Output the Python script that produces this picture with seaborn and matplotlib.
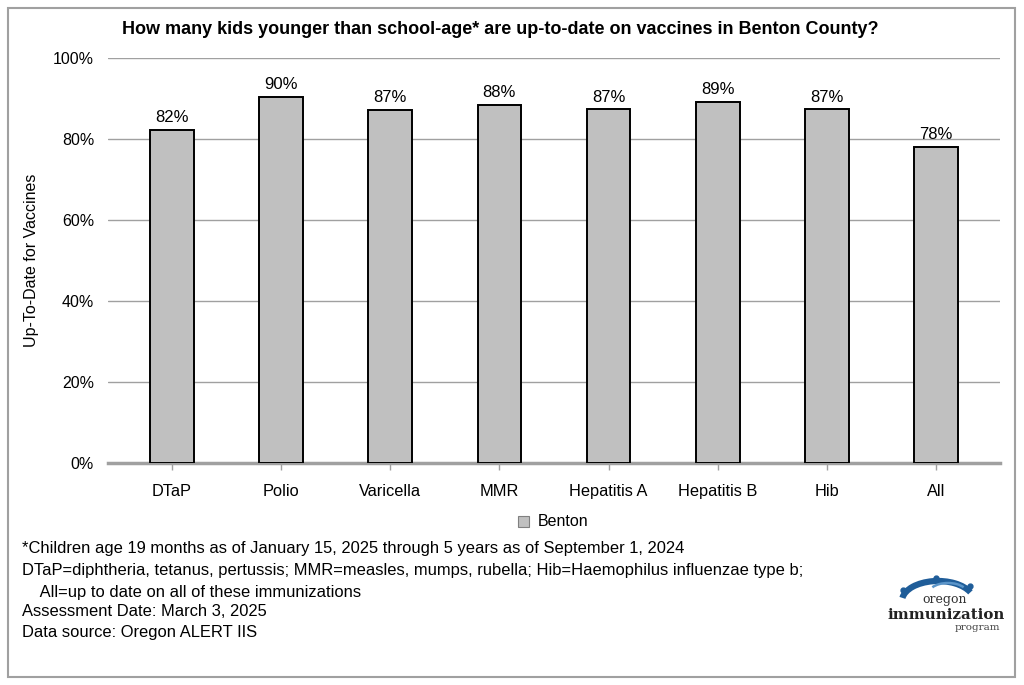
import numpy as np
import pandas as pd
import matplotlib.pyplot as plt
import seaborn as sns
from matplotlib.patches import Rectangle, Arc

vaccines = ['DTaP', 'Polio', 'Varicella', 'MMR', 'Hepatitis A', 'Hepatitis B', 'Hib', 'All']
benton = [82.2, 90.4, 87.2, 88.4, 87.3, 89.2, 87.3, 78.0]
labels = ['82%', '90%', '87%', '88%', '87%', '89%', '87%', '78%']
yticks = [0, 20, 40, 60, 80, 100]

notes = [
    '*Children age 19 months as of January 15, 2025 through 5 years as of September 1, 2024',
    'DTaP=diphtheria, tetanus, pertussis; MMR=measles, mumps, rubella; Hib=Haemophilus influenzae type b;',
    '    All=up to date on all of these immunizations',
    'Assessment Date: March 3, 2025',
    'Data source: Oregon ALERT IIS',
]

sns.set_style('white')
plt.rcParams['font.family'] = ['Liberation Sans', 'DejaVu Sans']
plt.rcParams['text.color'] = 'black'
plt.rcParams['axes.labelcolor'] = 'black'
plt.rcParams['xtick.color'] = 'black'
plt.rcParams['ytick.color'] = 'black'

df = pd.DataFrame({'vaccine': vaccines, 'pct': benton})

fig = plt.figure(figsize=(10.24, 6.85), dpi=100)
W, H = 1024, 685
ax = fig.add_axes([108 / W, 1 - 463 / H, (1000 - 108) / W, (463 - 58) / H])

sns.barplot(data=df, x='vaccine', y='pct', color='#c0c0c0', edgecolor='black',
            linewidth=1.4, width=0.4, saturation=1, ax=ax, zorder=3)

for i, (v, lab) in enumerate(zip(benton, labels)):
    ax.text(i, v + 1.2, lab, ha='center', va='bottom', fontsize=12)

ax.set_ylim(0, 100)
ax.set_xlim(-0.587, 7.587)
ax.set_yticks(yticks)
ax.set_yticklabels([f'{t}%' for t in yticks], fontsize=11.5)
ax.yaxis.grid(True, color='#a0a0a0', linewidth=1.0, zorder=0)
ax.tick_params(axis='y', length=0, pad=10)
ax.tick_params(axis='x', length=5, color='#a0a0a0', width=1, direction='out',
               labelsize=11.8, pad=10, bottom=True)
for s in ['top', 'right', 'left']:
    ax.spines[s].set_visible(False)
ax.spines['bottom'].set_color('#a0a0a0')
ax.spines['bottom'].set_linewidth(2.5)
ax.set_xlabel('')
ax.set_ylabel('Up-To-Date for Vaccines', fontsize=11.5, labelpad=10)

fig.text(500 / W, 1 - 30 / H,
         'How many kids younger than school-age* are up-to-date on vaccines in Benton County?',
         ha='center', va='center', fontsize=13.0, fontweight='bold')

# legend
fig.patches.append(Rectangle((518 / W, 1 - 527 / H), 11 / W, 11 / H, transform=fig.transFigure,
                             facecolor='#c0c0c0', edgecolor='#808080', linewidth=0.8))
fig.text(538 / W, 1 - 521 / H, 'Benton', ha='left', va='center', fontsize=11.5)

# footnotes
ys = [549, 571, 592, 611, 632]
for t, y in zip(notes, ys):
    fig.text(22 / W, 1 - y / H, t, ha='left', va='center', fontsize=11.9)

# logo
logo_ax = fig.add_axes([890 / W, 1 - 635 / H, 112 / W, 62 / H])
logo_ax.set_xlim(0, 112)
logo_ax.set_ylim(0, 62)
logo_ax.axis('off')
logo_ax.add_patch(Arc((48, 34), 72, 40, theta1=15, theta2=175, color='#1f5d99', linewidth=4.5))
logo_ax.add_patch(Arc((58, 42), 38, 20, theta1=20, theta2=160, color='#5b95c9', linewidth=1.8))
for px, py in [(13, 45), (46, 57), (80, 49)]:
    logo_ax.plot(px, py, 'o', color='#1f5d99', markersize=3.5)
logo_ax.text(55, 35, 'oregon', ha='center', va='center', fontsize=9, family='DejaVu Serif', color='#333333')
logo_ax.text(56, 20, 'immunization', ha='center', va='center', fontsize=10.8, family='DejaVu Serif',
             fontweight='bold', color='#222222')
logo_ax.text(110, 7, 'program', ha='right', va='center', fontsize=7.5, family='DejaVu Serif', color='#444444')

# outer border
fig.patches.append(Rectangle((8 / W, 1 - 677 / H), 1007 / W, 669 / H, transform=fig.transFigure,
                             fill=False, edgecolor='#a0a0a0', linewidth=1.5))

fig.savefig('out.png', dpi=100)
